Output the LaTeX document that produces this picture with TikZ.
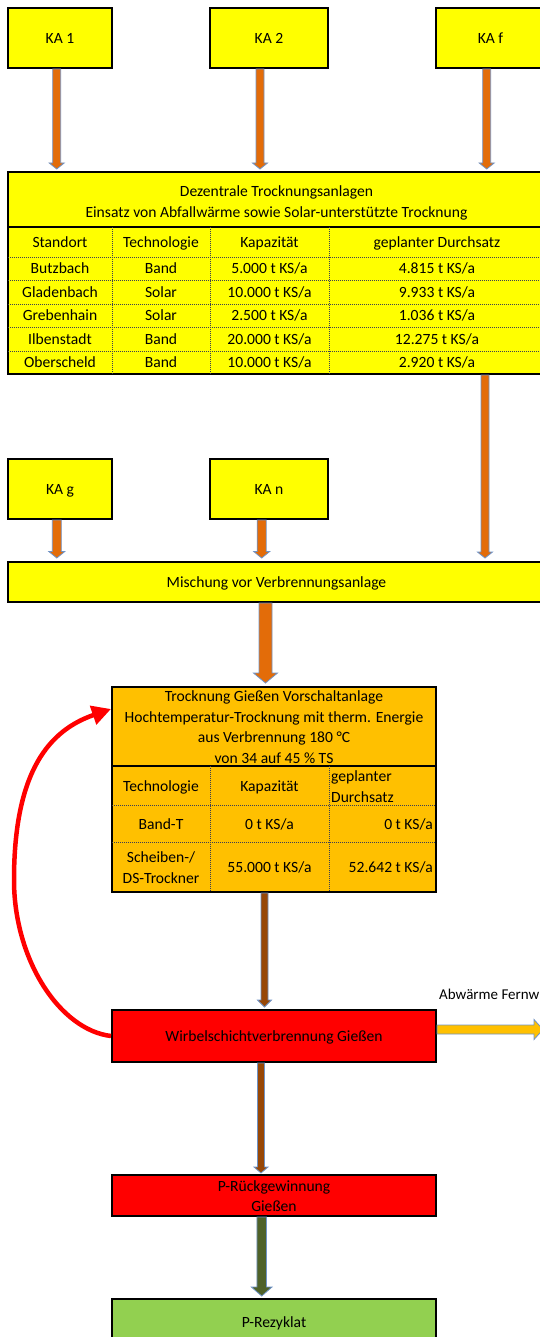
\documentclass[tikz,border=0pt]{standalone}
\usepackage{fontspec}
\setmainfont{Carlito}
\usetikzlibrary{arrows.meta,calc}

\definecolor{boxyellow}{HTML}{FFFF00}
\definecolor{boxorange}{HTML}{FFC000}
\definecolor{boxred}{HTML}{FF0000}
\definecolor{boxgreen}{HTML}{92D050}
\definecolor{flowfill}{HTML}{E36C09}
\definecolor{flowbrown}{HTML}{974706}
\definecolor{flowgreen}{HTML}{4F6228}
\definecolor{flowedge}{HTML}{6F93C6}
\definecolor{loopred}{HTML}{FF0000}
\definecolor{gridcol}{HTML}{3A3F55}

\newcommand\cellfont{\fontsize{15.6}{20.7}\selectfont}

% block arrow pointing down: start, end, half shaft, half head, head length, fill
\newcommand\flowdown[6]{%
  \draw[arrowline, fill=#6] let \p1=(#1), \p2=(#2) in
    (\x1-#3pt,\y1) -- (\x1-#3pt,\y2+#5pt) -- (\x1-#4pt,\y2+#5pt) -- (\x1,\y2)
    -- (\x1+#4pt,\y2+#5pt) -- (\x1+#3pt,\y2+#5pt) -- (\x1+#3pt,\y1) -- cycle;}

% block arrow pointing right: start, end, half shaft, half head, head length, fill
\newcommand\flowright[6]{%
  \draw[arrowline, fill=#6] let \p1=(#1), \p2=(#2) in
    (\x1,\y1+#3pt) -- (\x2-#5pt,\y1+#3pt) -- (\x2-#5pt,\y1+#4pt) -- (\x2,\y1)
    -- (\x2-#5pt,\y1-#4pt) -- (\x2-#5pt,\y1-#3pt) -- (\x1,\y1-#3pt) -- cycle;}

\begin{document}
\begin{tikzpicture}[x=1pt, y=-1pt,
  box/.style={draw=black, line width=2pt, inner sep=0pt, font=\cellfont,
              text height=10.5pt, text depth=0pt},
  cell/.style={inner sep=0pt, font=\cellfont, text height=10.5pt, text depth=0pt},
  grid/.style={draw=gridcol, line width=0.9pt, dash pattern=on 1pt off 1pt},
  sep/.style={draw=black, line width=2pt},
  arrowline/.style={draw=flowedge, line width=0.8pt, line join=miter}]

\useasboundingbox (0,0) rectangle (540,1337);
\clip (0,0) rectangle (540,1337);

% sewage plants, first row
\node[box, fill=boxyellow, minimum width=104pt, minimum height=60pt] (ka1) at (60,38) {KA 1};
\node[box, fill=boxyellow, minimum width=118pt, minimum height=60pt] (ka2) at (269,38) {KA 2};
\node[box, fill=boxyellow, minimum width=109pt, minimum height=60pt] (kaf) at (490.5,38) {KA f};

% decentral drying plants
\node[box, fill=boxyellow, minimum width=537pt, minimum height=202pt] (tab1) at (276.5,273) {};
\draw[sep] (8,227) -- (545,227);
\draw[grid] (112,227) -- (112,374) (210,227) -- (210,374) (329,227) -- (329,374);
\foreach \yy in {257,280.5,304,327.5,351}
  \draw[grid] (8,\yy) -- (545,\yy);
\node[cell] (tab1ta) at (276.5,191.2) {Dezentrale Trocknungsanlagen};
\node[cell] (tab1tb) at (276.5,211.9) {Einsatz von Abfallwärme sowie Solar-unterstützte Trocknung};
\node[cell] (h1a) at (60,242) {Standort};
\node[cell] (h1b) at (161,242) {Technologie};
\node[cell] (h1c) at (269.5,242) {Kapazität};
\node[cell] (h1d) at (437,242) {geplanter Durchsatz};
\foreach \site/\tech/\capa/\thru [count=\r] in
  {Butzbach/Band/5.000/4.815, Gladenbach/Solar/10.000/9.933,
   Grebenhain/Solar/2.500/1.036, Ilbenstadt/Band/20.000/12.275,
   Oberscheld/Band/10.000/2.920}{
  \pgfmathsetmacro\ry{268.5+(\r-1)*23.5}
  \node[cell] (s\r) at (60,\ry) {\site};
  \node[cell] (t\r) at (161,\ry) {\tech};
  \node[cell] (k\r) at (269.5,\ry) {\capa\ t KS/a};
  \node[cell] (d\r) at (437,\ry) {\thru\ t KS/a};
}

% sewage plants, second row
\node[box, fill=boxyellow, minimum width=104pt, minimum height=60pt] (kag) at (60,489) {KA g};
\node[box, fill=boxyellow, minimum width=118pt, minimum height=60pt] (kan) at (269,489) {KA n};

% mixing
\node[box, fill=boxyellow, minimum width=537pt, minimum height=40pt] (mix) at (276.5,582)
  {Mischung vor Verbrennungsanlage};

% central pre-drying
\node[box, fill=boxorange, minimum width=324pt, minimum height=205pt] (tab2) at (274,789.5) {};
\draw[sep] (112,766) -- (436,766);
\draw[grid] (210,766) -- (210,892) (329,766) -- (329,892);
\draw[grid] (112,805) -- (436,805) (112,842) -- (436,842);
\node[cell] (tab2ta) at (274,696.2) {Trocknung Gießen Vorschaltanlage};
\node[cell] (tab2tb) at (274,716.9) {Hochtemperatur-Trocknung mit therm. Energie};
\node[cell] (tab2tc) at (274,737.6) {aus Verbrennung 180 °C};
\node[cell] (tab2td) at (274,758.3) {von 34 auf 45 \% TS};
\node[cell] (h2a) at (161,786) {Technologie};
\node[cell] (h2b) at (269.5,786) {Kapazität};
\node[cell, anchor=west] (h2c) at (331,776.7) {geplanter};
\node[cell, anchor=west] (h2d) at (331,797.4) {Durchsatz};
\node[cell] (b1) at (161,824) {Band-T};
\node[cell] (b2) at (269.5,824) {0 t KS/a};
\node[cell, anchor=east] (b3) at (433,824) {0 t KS/a};
\node[cell] (c1a) at (161,857.4) {Scheiben-/};
\node[cell] (c1b) at (161,878.1) {DS-Trockner};
\node[cell] (c2) at (269.5,867.3) {55.000 t KS/a};
\node[cell, anchor=east] (c3) at (433,867.3) {52.642 t KS/a};

% incineration and phosphorus recovery
\node[box, fill=boxred, minimum width=324pt, minimum height=52pt] (wsv) at (274,1036)
  {Wirbelschichtverbrennung Gießen};
\node[box, fill=boxred, minimum width=324pt, minimum height=41pt] (prg) at (274,1195.5) {};
\node[cell] (prga) at (274,1186) {P-Rückgewinnung};
\node[cell] (prgb) at (274,1206.7) {Gießen};
\node[box, fill=boxgreen, minimum width=324pt, minimum height=46pt] (prz) at (274,1322)
  {P-Rezyklat};

% flows
\flowdown{$(ka1.south)+(-3.3,0)$}{$(ka1.south |- tab1.north)+(-3.3,-2)$}{4}{7.5}{6}{flowfill}
\flowdown{$(ka2.south)+(-9,0)$}{$(ka2.south |- tab1.north)+(-9,-2)$}{4}{7.5}{6}{flowfill}
\flowdown{$(kaf.south)+(-3.8,0)$}{$(kaf.south |- tab1.north)+(-3.8,-2)$}{4}{7.5}{6}{flowfill}
\flowdown{$(tab1.south west)+(478,0)$}{$(tab1.south west |- mix.north)+(478,-3)$}{4}{7.5}{6}{flowfill}
\flowdown{$(kag.south)+(-3.2,0)$}{$(kag.south |- mix.north)+(-3.2,-3)$}{4.5}{8}{6.5}{flowfill}
\flowdown{$(kan.south)+(-7.3,0)$}{$(kan.south |- mix.north)+(-7.3,-3)$}{4.5}{8}{6.5}{flowfill}
\flowdown{$(mix.south)+(-11,0)$}{$(mix.south |- tab2.north)+(-11,-3)$}{6.5}{12}{10}{flowfill}
\flowdown{$(tab2.south)+(-9.5,0)$}{$(tab2.south |- wsv.north)+(-9.5,-2)$}{3.5}{7}{7}{flowbrown}
\flowdown{$(wsv.south)+(-13,0)$}{$(wsv.south |- prg.north)+(-13,-1)$}{3.5}{7}{6}{flowbrown}
\flowdown{$(prg.south)+(-12.3,0)$}{$(prg.south |- prz.north)+(-12.3,-2)$}{4.8}{10.3}{9}{flowgreen}

% waste heat to district heating
\coordinate (heatout) at (543,1029.5);
\flowright{$(wsv.east)+(0,-6.5)$}{heatout}{4.5}{10}{9}{boxorange}
\node[cell, anchor=west, font=\fontsize{15}{18}\selectfont] (heatlabel) at (439,994) {Abwärme Fernw};

% heat returned from incineration to the dryer
\draw[loopred, line width=4.5pt, -{Triangle[length=19pt,width=19pt]}]
  (wsv.west) .. controls (60,1030) and (14,960) .. (14,880)
  .. controls (14,770) and (50,730) .. ($(tab2.north west)+(0,23)$);

\end{tikzpicture}
\end{document}
